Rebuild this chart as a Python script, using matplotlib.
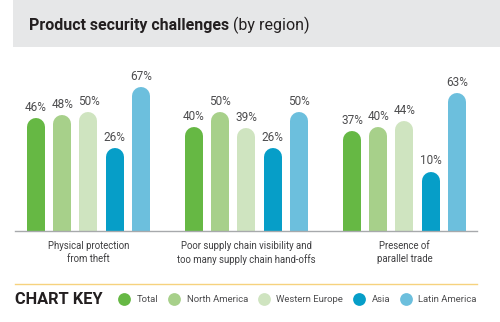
import matplotlib
matplotlib.use('Agg')
from matplotlib import pyplot
from matplotlib.patches import Rectangle
from matplotlib.lines import Line2D
import numpy

categories = [
    'Physical protection\nfrom theft',
    'Poor supply chain visibility and\ntoo many supply chain hand-offs',
    'Presence of\nparallel trade',
]
regions = ['Total', 'North America', 'Western Europe', 'Asia', 'Latin America']
total = [46, 40, 37]
north_america = [48, 50, 40]
western_europe = [50, 39, 44]
asia = [26, 26, 10]
latin_america = [67, 50, 63]

colors = ['#66b844', '#a7d08a', '#cfe4c0', '#069ec8', '#6cbfdd']
font = 'Roboto'
text_color = '#4d4d4f'

figure = pyplot.figure(figsize=(5, 3.22), dpi=100)

# title band
figure.patches.append(Rectangle((0.026, 1 - 47 / 322), 0.974, 47 / 322,
                                transform=figure.transFigure,
                                facecolor='#e6e7e8', edgecolor='none', zorder=0))

ax = figure.add_axes([0.03, 91 / 322, 0.924, 171 / 322])
ax.set_xlim(-0.465, 2.459)
ax.set_ylim(-30, 85)
for side in ['top', 'right', 'left']:
    ax.spines[side].set_visible(False)
ax.spines['bottom'].set_color('#a7a9ac')
ax.spines['bottom'].set_linewidth(1.0)
ax.set_yticks([])

series = [total, north_america, western_europe, asia, latin_america]
x = numpy.arange(len(categories))
pitch = 0.166
bar_px = 18
lw = bar_px * 72 / figure.dpi

# half bar width in data units on the y axis, for the round cap
y_per_px = (ax.get_ylim()[1] - ax.get_ylim()[0]) / (ax.get_position().height * figure.get_figheight() * figure.dpi)
cap = bar_px / 2 * y_per_px

for i, values in enumerate(series):
    xs = x + (i - 2) * pitch
    for xi, v in zip(xs, values):
        ax.plot([xi, xi], [ax.get_ylim()[0] - 10, v - cap], color=colors[i],
                lw=lw, solid_capstyle='round', zorder=2)
        ax.annotate(f'{v}%', (xi, v), xytext=(0, 3), textcoords='offset points',
                    ha='center', va='bottom', fontsize=8.5, family=font,
                    color=text_color)

ax.set_xticks(x)
ax.set_xticklabels(categories, family=font, fontsize=6.9, color='#3f3f41',
                   linespacing=1.35)
ax.tick_params(axis='x', length=0, pad=7)

# title: bold part + regular part
title = figure.text(29 / 500, 1 - 30 / 322, 'Product security challenges',
                    fontsize=11.5, fontweight='bold', family=font, color='#231f20',
                    va='baseline')
figure.canvas.draw()
bb = title.get_window_extent()
figure.text(bb.x1 / (figure.get_figwidth() * figure.dpi) + 0.008, 1 - 30 / 322,
            '(by region)', fontsize=11.5, family=font, color='#231f20', va='baseline')

# yellow separator
figure.lines.append(Line2D([0.03, 0.954], [1 - 284 / 322] * 2, transform=figure.transFigure,
                           color='#f6d27e', lw=1.0))

figure.text(15 / 500, 1 - 300 / 322, 'CHART KEY', fontsize=11.8, fontweight='bold',
            family=font, color='#231f20', va='center')

handles = [Line2D([], [], marker='o', linestyle='none', markersize=9.2,
                  markerfacecolor=c, markeredgecolor='none') for c in colors]
figure.legend(handles, regions, loc='center left', bbox_to_anchor=(0.236, 1 - 300 / 322),
              ncol=5, frameon=False, handletextpad=0.7, columnspacing=1.0,
              handlelength=1.3, borderaxespad=0, borderpad=0,
              prop={'family': font, 'size': 6.8}, labelcolor=text_color)

figure.savefig('out.png', dpi=100)
